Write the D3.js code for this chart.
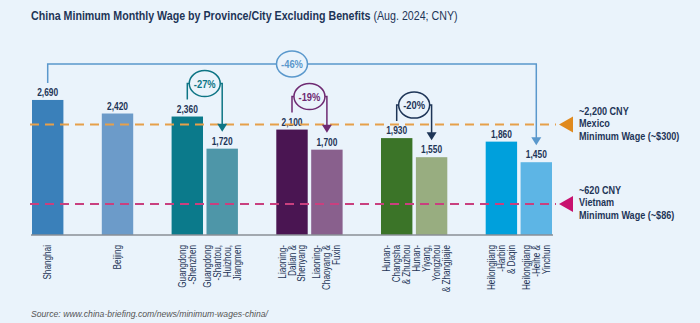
<!DOCTYPE html>
<html>
<head>
<meta charset="utf-8">
<script src="https://cdn.jsdelivr.net/npm/d3@7"></script>
<style>
  html, body { margin: 0; padding: 0; background: #eaf3fb; }
  svg { display: block; }
  text { font-family: "Liberation Sans", Arial, sans-serif; }
</style>
</head>
<body>
<svg id="chart" width="700" height="323"></svg>
<script>
// Minimum monthly wage (CNY) by province / city, Aug. 2024
const categories = [
  "Shanghai", "Beijing",
  "Guangdong-Shenzhen", "Guangdong-Shantou, Huizhou, Jiangmen",
  "Liaoning-Dalian & Shenyang", "Liaoning-Chaoyang & Fuxin",
  "Hunan-Changsha & Zhuzhou", "Hunan-Yiyang, Yongzhou & Zhangjiajie",
  "Heilongjiang-Harbin & Daqin", "Heilongjiang-Heihe & Yinchun"
];
const labelLines = [
  ["Shanghai"], ["Beijing"],
  ["Guangdong", "-Shenzhen"], ["Guangdong", "-Shantou,", "Huizhou,", "Jiangmen"],
  ["Liaoning-", "Dalian &", "Shenyang"], ["Liaoning-", "Chaoyang &", "Fuxin"],
  ["Hunan-", "Changsha", "& Zhuzhou"], ["Hunan-", "Yiyang,", "Yongzhou", "& Zhangjiajie"],
  ["Heilongjiang", "-Harbin", "& Daqin"], ["Heilongjiang", "-Heihe &", "Yinchun"]
];
const wages = [2690, 2420, 2360, 1720, 2100, 1700, 1930, 1550, 1860, 1450];

// bars that sit side by side (indices into categories)
const groups = [[0], [1], [2, 3], [4, 5], [6, 7], [8, 9]];

// pairwise drops: [from index, to index]
const comparisons = [[2, 3], [4, 5], [6, 7], [0, 9]];

// reference wage lines
const benchmarkValues = [2200, 620];
const benchmarkLabels = [
  ["~2,200 CNY", "Mexico", "Minimum Wage (~$300)"],
  ["~620 CNY", "Vietnam", "Minimum Wage (~$86)"]
];

const titleMain = "China Minimum Monthly Wage by Province/City Excluding Benefits";
const titleSub = " (Aug. 2024; CNY)";
const sourceText = "Source: www.china-briefing.com/news/minimum-wages-china/";

// ---- styling ----
const barPalette = ["#3a80ba", "#6c9bc9", "#0b7a8b", "#4e96a8", "#4a1552",
                    "#89608d", "#3b7428", "#98ad80", "#00a0dc", "#5db5e5"];
const compColors = ["#0e7585", "#6e2a72", "#1e3557", "#5a98cc"];
const benchLine = ["#e6a04a", "#c9407f"];
const benchMark = ["#e08a1e", "#c8126f"];
const navy = "#1e3557";
const bg = "#eaf3fb";

const svg = d3.select("#chart");

// condensed text: a group placed at (x, y), squeezed horizontally
function narrowText(parent, x, y, sx, rot) {
  return parent.append("g")
    .attr("transform", `translate(${x},${y})${rot ? ` rotate(${rot})` : ""} scale(${sx},1)`)
    .append("text").attr("x", 0).attr("y", 0);
}

// slots: each group's bars, with an empty slot between groups
const slots = [];
groups.forEach((g, gi) => {
  if (gi > 0) slots.push("gap" + gi);
  g.forEach(i => slots.push(categories[i]));
});

const x = d3.scaleBand().domain(slots).range([32, 552]).paddingInner(0.1).paddingOuter(0);
const y = d3.scaleLinear().domain([0, 3000]).range([235, 84.4]);
const cx = i => x(categories[i]) + x.bandwidth() / 2;

// title
const title = narrowText(svg, 31, 20, 0.79)
  .attr("font-size", 13.5).attr("fill", navy);
title.append("tspan").attr("font-weight", "bold").text(titleMain);
title.append("tspan").text(titleSub);

// bars
svg.append("g").selectAll("rect").data(wages).join("rect")
  .attr("x", (d, i) => x(categories[i]))
  .attr("y", d => y(d))
  .attr("width", x.bandwidth())
  .attr("height", d => y(0) - y(d))
  .attr("fill", (d, i) => barPalette[i]);

// value labels
const vl = svg.append("g");
wages.forEach((d, i) => {
  narrowText(vl, cx(i), y(d) - 4, 0.8)
    .attr("text-anchor", "middle")
    .attr("font-size", 10.5).attr("font-weight", "bold").attr("fill", navy)
    .text(d3.format(",")(d));
});

// baseline
svg.append("line").attr("x1", 31).attr("x2", 553)
  .attr("y1", y(0)).attr("y2", y(0))
  .attr("stroke", "#8a8f96").attr("stroke-width", 1.5);

// category labels, rotated
const lh = 10, fs = 10;
const xl = svg.append("g");
labelLines.forEach((lines, i) => {
  const n = lines.length;
  lines.forEach((l, k) => {
    narrowText(xl, cx(i), 245, 0.82, -90)
      .attr("y", (k - (n - 1) / 2) * lh + fs * 0.35)
      .attr("text-anchor", "end")
      .attr("font-size", fs).attr("fill", navy)
      .text(l);
  });
});

// benchmark dashed lines with markers and notes
benchmarkValues.forEach((v, k) => {
  const yy = y(v);
  svg.append("line").attr("x1", 30).attr("x2", 556).attr("y1", yy).attr("y2", yy)
    .attr("stroke", benchLine[k]).attr("stroke-width", 2)
    .attr("stroke-dasharray", "9,6");
  svg.append("path")
    .attr("d", `M559,${yy} L573,${yy - 8} L573,${yy + 8} Z`)
    .attr("fill", benchMark[k]);
  const t = narrowText(svg, 579, yy - 10, 0.79)
    .attr("font-size", 11.5).attr("font-weight", "bold").attr("fill", navy);
  benchmarkLabels[k].forEach((l, j) => {
    t.append("tspan").attr("x", 0).attr("dy", j === 0 ? 0 : 12.6).text(l);
  });
});

// comparison brackets with arrow and percent bubble
comparisons.forEach(([a, b], k) => {
  const col = compColors[k];
  const xa = cx(a), xb = cx(b);
  const ya = y(wages[a]) - 17, yb = y(wages[b]) - 17;
  const yTop = y(wages[a]) - (k === 3 ? 36 : 33);
  const g = svg.append("g");
  g.append("path")
    .attr("d", `M${xa},${ya} V${yTop} H${xb} V${yb - 7}`)
    .attr("fill", "none").attr("stroke", col).attr("stroke-width", 1.5);
  g.append("path")
    .attr("d", `M${xb - 5},${yb - 8} L${xb + 5},${yb - 8} L${xb},${yb} Z`)
    .attr("fill", col);
  const mx = (xa + xb) / 2;
  g.append("ellipse").attr("cx", mx).attr("cy", yTop).attr("rx", 15.5).attr("ry", 13)
    .attr("fill", bg).attr("stroke", col).attr("stroke-width", 1.5);
  const pct = Math.round((wages[b] - wages[a]) / wages[a] * 100);
  narrowText(g, mx, yTop + 4, 0.85)
    .attr("text-anchor", "middle").attr("font-size", 11).attr("font-weight", "bold")
    .attr("fill", col).text(pct + "%");
});

// source note
narrowText(svg, 31, 317, 0.96)
  .attr("font-size", 9).attr("font-style", "italic").attr("fill", "#555")
  .text(sourceText);
</script>
</body>
</html>
